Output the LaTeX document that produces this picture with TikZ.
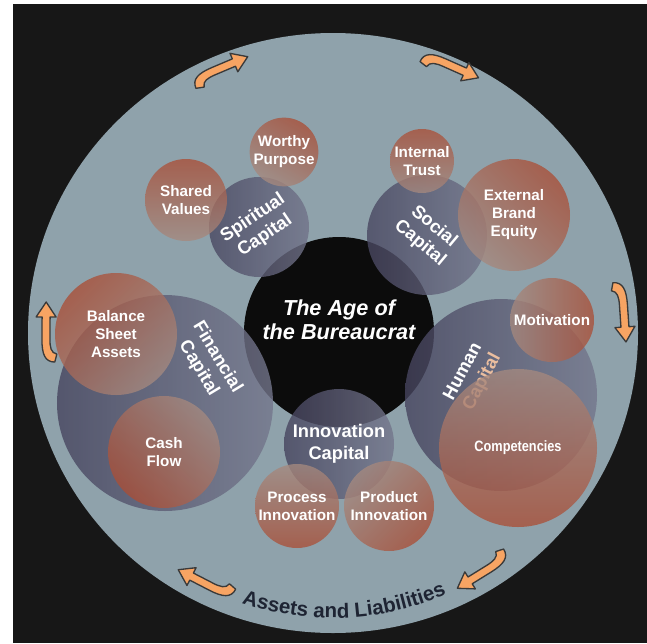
\documentclass[tikz,border=0pt]{standalone}
\usepackage{fontspec}
\setmainfont{Liberation Sans}
\usetikzlibrary{positioning}
\usetikzlibrary{decorations.text}

\definecolor{bgblack}{HTML}{171717}
\definecolor{plate}{HTML}{8FA2AB}
\definecolor{coreblack}{HTML}{0C0C0C}
\definecolor{purDeep}{HTML}{46445E}
\definecolor{purPale}{HTML}{74768C}
\definecolor{oraDeep}{HTML}{AA4E36}
\definecolor{oraPale}{HTML}{A58A80}
\definecolor{arrowfill}{HTML}{F7A463}
\definecolor{arrowline}{HTML}{3A3A3A}
\definecolor{assetsblue}{HTML}{1E2433}
\definecolor{peach}{HTML}{EBBE9F}

\newcommand{\balllabel}{\fontsize{13}{15.4}\selectfont\bfseries}
\newcommand{\caplabel}{\fontsize{15.6}{18.5}\selectfont\bfseries}
\newcommand{\corelabel}{\fontsize{18.5}{20.5}\selectfont\bfseries\itshape}

\tikzset{
  rad/.style={minimum size=#1*0.6mm},
  capital/.style={circle, inner sep=0pt, align=center, text=white, font=\caplabel,
    left color=purDeep, right color=purPale, fill opacity=0.8, text opacity=1},
  ball/.style={circle, inner sep=0pt, align=center, text=white, font=\balllabel,
    top color=oraDeep, bottom color=oraPale, fill opacity=0.78, text opacity=1},
  flowarrow/.pic={
    \draw[fill=arrowfill, draw=arrowline, line width=0.4mm, line join=round]
      (-31,9) .. controls (-31,-1) and (-23,-4) .. (-8,-4) -- (14,-4) -- (14,-10)
      -- (29,0) -- (14,10) -- (14,4) -- (-8,4) .. controls (-16,4) and (-22,5) .. (-23,11) -- cycle;
  }
}

\begin{document}
\begin{tikzpicture}[x=0.3mm,y=-0.3mm]
\useasboundingbox (0,0) rectangle (647,643);
\fill[bgblack] (13,4) rectangle (647,643);
\fill[plate] (333,333) ellipse [x radius=305, y radius=300];

\pic[rotate=22.9] (arrA) at (221,68) {flowarrow};
\pic[rotate=-24] (arrB) at (452,66) {flowarrow};
\pic[rotate=-86.1] (arrC) at (624,313) {flowarrow};
\pic[rotate=-148.2] (arrD) at (482,573) {flowarrow};
\pic[rotate=152.7] (arrE) at (204,583) {flowarrow};
\pic[rotate=89.6] (arrF) at (46,331) {flowarrow};

\path[decorate, decoration={text along path, text align=center,
  text={|\fontsize{17.5}{17.5}\selectfont\bfseries\color{assetsblue}|Assets and Liabilities}}]
  ([shift={(117.6:285)}]333,333) arc [start angle=117.6, end angle=57.6, radius=285];

\node[circle, fill=coreblack, inner sep=0pt, rad=95] (core) at (339,332) {};

% capitals
\node[capital, rad=50, rotate=34] (spirit) at (259,227) {Spiritual\\Capital};
\node[capital, rad=60, rotate=-40] (social) at (427,235) {Social\\Capital};
\node[capital, rad=108] (fin) at (165,403) {};
\node[capital, rad=96] (human) at (501,395) {};
\node[capital, rad=55] (innov) at (339,444) {Innovation\\Capital};
\node[font=\caplabel, text=white, align=center, rotate=-59] (fintext) at (208,363) {Financial\\Capital};
\node[font=\caplabel, text=white, align=center, rotate=62] (humantext) at (473,377) {Human\\\textcolor{peach}{Capital}};

% assets
\node[ball, rad=41] (shared) at (186,200) {Shared\\Values};
\node[ball, rad=32, shading angle=-30] (worthy) at (284,152) {Worthy\\Purpose};
\node[ball, rad=32] (trust) at (422,161) {Internal\\Trust};
\node[ball, rad=56, shading angle=-45] (brand) at (514,215) {External\\Brand\\Equity};
\node[ball, rad=61, shading angle=45] (balance) at (116,334) {Balance\\Sheet\\Assets};
\node[ball, rad=56, shading angle=135] (cash) at (164,452) {Cash\\Flow};
\node[ball, rad=42, shading angle=-90] (motiv) at (552,320) {Motivation};
\node[ball, rad=79, shading angle=180, font=\fontsize{12.8}{15}\selectfont\bfseries] (compet) at (518,448) {\scalebox{0.85}[1]{Competencies}};
\node[ball, rad=42, shading angle=180] (process) at (297,506) {Process\\Innovation};
\node[ball, rad=45, shading angle=-135] (product) at (389,506) {Product\\Innovation};

\node[font=\corelabel, text=white, align=center] (agetext) at (339,320) {The Age of\\the Bureaucrat};

\end{tikzpicture}
\end{document}
